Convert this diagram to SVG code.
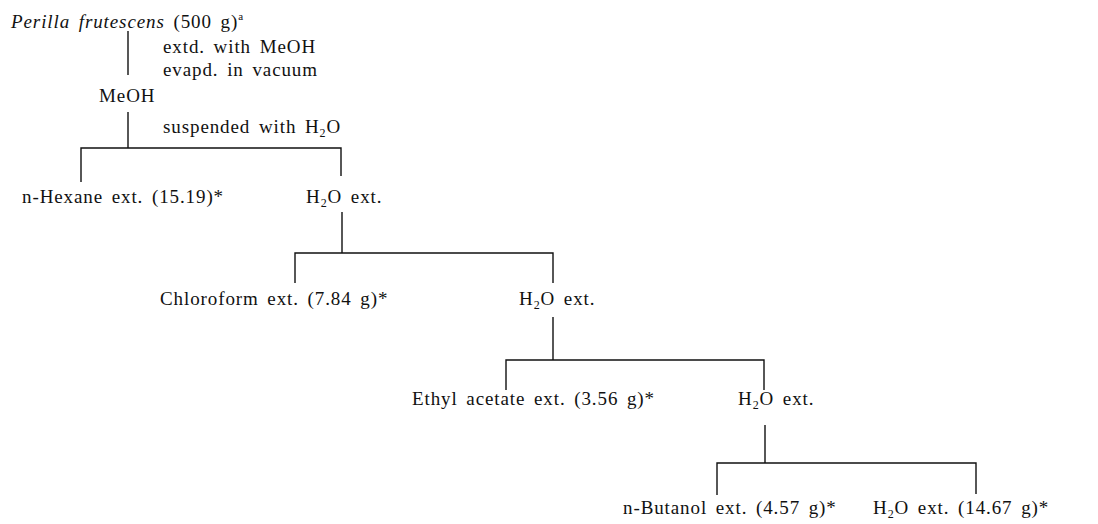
<svg xmlns="http://www.w3.org/2000/svg" width="1098" height="524" viewBox="0 0 1098 524">
<style>
text{font-family:"Liberation Serif","Times New Roman",serif;font-size:19px;fill:#111;letter-spacing:0.9px;word-spacing:3px}
.it{font-style:italic}
.sub{font-size:12px}
.sup{font-size:11px}
#connectors path{stroke:#111;stroke-width:1.4;fill:none}
</style>
<rect width="1098" height="524" fill="#fff"/>
<g id="connectors">
<path d="M128 31V75"/>
<path d="M128 112V148M81 182V148H341V176"/>
<path d="M342 212V253M295 283V253H553V283"/>
<path d="M553 317V360M506 390V360H764V390"/>
<path d="M765 425V463M717 495V463H976V494"/>
</g>
<g id="root"><text x="11" y="28"><tspan class="it">Perilla frutescens</tspan> (500 g)<tspan class="sup" dy="-8">a</tspan></text></g>
<g id="step1"><text x="163" y="53">extd. with MeOH</text><text x="163" y="76">evapd. in vacuum</text></g>
<g id="meoh"><text x="99" y="102">MeOH</text></g>
<g id="step2"><text x="163" y="133">suspended with H<tspan class="sub" dy="4">2</tspan><tspan dy="-4">O</tspan></text></g>
<g id="hexane"><text x="22" y="203">n-Hexane ext. (15.19)*</text></g>
<g id="water1"><text x="306" y="203">H<tspan class="sub" dy="4">2</tspan><tspan dy="-4">O ext.</tspan></text></g>
<g id="chloroform"><text x="160" y="305">Chloroform ext. (7.84 g)*</text></g>
<g id="water2"><text x="519" y="305">H<tspan class="sub" dy="4">2</tspan><tspan dy="-4">O ext.</tspan></text></g>
<g id="ethyl"><text x="412" y="405">Ethyl acetate ext. (3.56 g)*</text></g>
<g id="water3"><text x="738" y="405">H<tspan class="sub" dy="4">2</tspan><tspan dy="-4">O ext.</tspan></text></g>
<g id="butanol"><text x="623" y="514">n-Butanol ext. (4.57 g)*</text></g>
<g id="water4"><text x="873" y="514">H<tspan class="sub" dy="4">2</tspan><tspan dy="-4">O ext. (14.67 g)*</tspan></text></g>
</svg>
